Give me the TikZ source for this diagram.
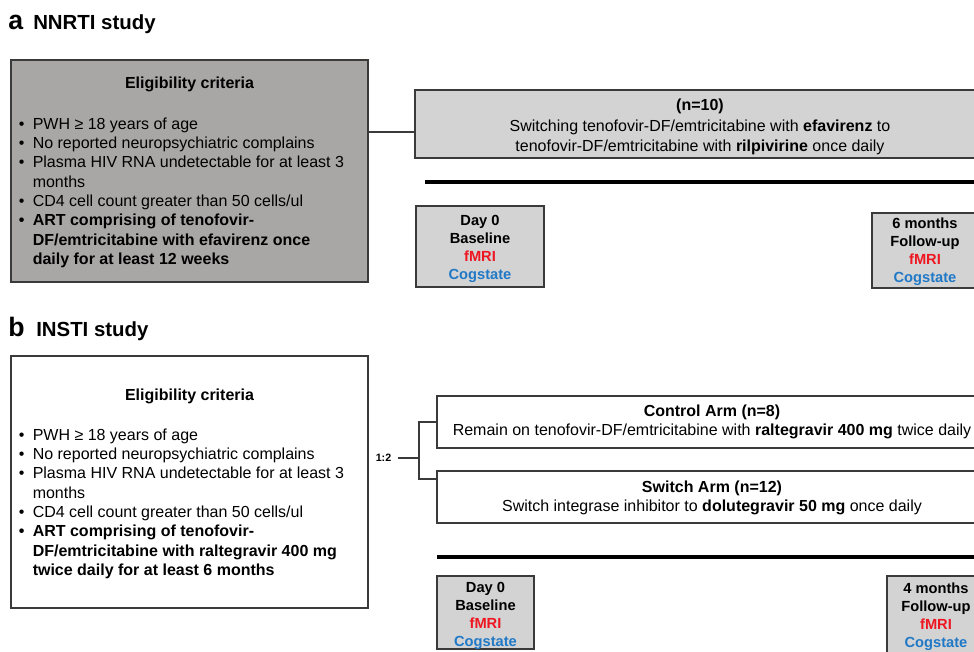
\documentclass[tikz,border=0pt]{standalone}
\usepackage{fontspec}
\setmainfont{Liberation Sans}
\usetikzlibrary{fit}
\definecolor{darkfill}{HTML}{A9A6A6}
\definecolor{lightfill}{HTML}{D4D3D3}
\definecolor{edgecol}{HTML}{3A3A3A}
\definecolor{mrired}{HTML}{EE1620}
\definecolor{cogblue}{HTML}{2079C7}
\newcommand\bodyfnt{\fontsize{12}{14.5}\selectfont}
\newcommand\armfnt{\fontsize{12}{15.4}\selectfont}
\newcommand\armbfnt{\fontsize{12}{14.3}\selectfont}
\newcommand\dayfnt{\fontsize{11}{13.5}\selectfont\bfseries}
\newcommand\mri{\textcolor{mrired}{fMRI}}
\newcommand\cog{\textcolor{cogblue}{Cogstate}}
\begin{document}
\begin{tikzpicture}[x=0.75pt,y=-0.75pt,
  letter/.style={inner sep=0pt, font=\fontsize{20}{22}\selectfont\bfseries},
  ttl/.style={inner sep=0pt, font=\fontsize{15.3}{18}\selectfont\bfseries},
  darkbox/.style={draw=edgecol, line width=1.1pt, fill=darkfill, inner sep=0pt},
  lightbox/.style={draw=edgecol, line width=1.1pt, fill=lightfill, inner sep=0pt},
  whitebox/.style={draw=edgecol, line width=1.1pt, fill=white, inner sep=0pt},
  head/.style={inner sep=0pt, font=\bodyfnt\bfseries},
  listtxt/.style={inner sep=0pt, font=\bodyfnt, align=left},
  armtxt/.style={inner sep=0pt, font=\armfnt, align=center},
  armbtxt/.style={inner sep=0pt, font=\armbfnt, align=center},
  daytxt/.style={inner sep=0pt, font=\dayfnt, align=center},
  conn/.style={draw=edgecol, line width=0.9pt},
  timeline/.style={draw=black, line width=2.3pt}]
\useasboundingbox (0,0) rectangle (974,651);
\clip (0,0) rectangle (974,651);
\fill[white] (0,0) rectangle (974,651);

% ---------------- panel a ----------------
\node[letter, anchor=base west] (la) at (8,29.5) {a};
\node[ttl, anchor=base west] (ta) at (33,29.5) {NNRTI study};

\node[darkbox, fit={(11,60) (368,282)}] (eligA) {};
\node[head, anchor=base] (ehA) at (189.5,88.5) {Eligibility criteria};
\node[listtxt, anchor=base west] (listA) at (18.5,129) {\begin{tabular}[t]{@{}l@{\hspace{6.3pt}}l@{}}
• & PWH ≥ 18 years of age\\
• & No reported neuropsychiatric complains\\
• & Plasma HIV RNA undetectable for at least 3\\
  & months\\
• & CD4 cell count greater than 50 cells/ul\\
\textbf{•} & \textbf{ART comprising of tenofovir-}\\
  & \textbf{DF/emtricitabine with efavirenz once}\\
  & \textbf{daily for at least 12 weeks}
\end{tabular}};

\node[lightbox, fit={(415,90) (990,158)}] (armA) {};
\node[armtxt] (armAt) at (700,127) {\textbf{(n=10)}\\
Switching tenofovir-DF/emtricitabine with \textbf{efavirenz} to\\
tenofovir-DF/emtricitabine with \textbf{rilpivirine} once daily};

\coordinate (jA) at (0,132);
\draw[conn] (eligA.east |- jA) -- (armA.west |- jA);

\coordinate (tlA0) at (425,182);
\coordinate (tlA1) at (990,182);
\draw[timeline] (tlA0) -- (tlA1);

\node[lightbox, fit={(416,206) (544,287)}] (d0A) {};
\node[daytxt] (d0At) at (480,248.5) {Day 0\\Baseline\\\mri\\\cog};

\node[lightbox, fit={(872,213) (980,288)}] (d6A) {};
\node[daytxt] (d6At) at (925,252) {6 months\\Follow-up\\\mri\\\cog};

% ---------------- panel b ----------------
\node[letter, anchor=base west] (lb) at (8,336) {b};
\node[ttl, anchor=base west] (tb) at (36,336) {INSTI study};

\node[whitebox, fit={(11,356) (368,608)}] (eligB) {};
\node[head, anchor=base] (ehB) at (189.5,400) {Eligibility criteria};
\node[listtxt, anchor=base west] (listB) at (18.5,440) {\begin{tabular}[t]{@{}l@{\hspace{6.3pt}}l@{}}
• & PWH ≥ 18 years of age\\
• & No reported neuropsychiatric complains\\
• & Plasma HIV RNA undetectable for at least 3\\
  & months\\
• & CD4 cell count greater than 50 cells/ul\\
\textbf{•} & \textbf{ART comprising of tenofovir-}\\
  & \textbf{DF/emtricitabine with raltegravir 400 mg}\\
  & \textbf{twice daily for at least 6 months}
\end{tabular}};

\node[inner sep=0pt, font=\fontsize{8}{9}\selectfont\bfseries] (ratio) at (383.5,458) {1:2};
\coordinate (split) at (419,458);
\coordinate (lowY) at (0,479);

\node[whitebox, fit={(437,396) (990,448)}] (ctrl) {};
\node[armbtxt] (ctrlt) at (712,421.5) {\textbf{Control Arm (n=8)}\\
Remain on tenofovir-DF/emtricitabine with \textbf{raltegravir 400 mg} twice daily};

\node[whitebox, fit={(437,471) (990,523)}] (sw) {};
\node[armbtxt] (swt) at (712,497.5) {\textbf{Switch Arm (n=12)}\\
Switch integrase inhibitor to \textbf{dolutegravir 50 mg} once daily};

\draw[conn] ([xshift=5pt]ratio.east) -- (split);
\draw[conn] (ctrl.west) -- (split |- ctrl.west) -- (split |- lowY) -- (sw.west |- lowY);

\coordinate (tlB0) at (437,557);
\coordinate (tlB1) at (990,557);
\draw[timeline] (tlB0) -- (tlB1);

\node[lightbox, fit={(437,576) (534,649)}] (d0B) {};
\node[daytxt] (d0Bt) at (485.5,615.5) {Day 0\\Baseline\\\mri\\\cog};

\node[lightbox, fit={(887,576) (985,665)}] (d4B) {};
\node[daytxt] (d4Bt) at (936,616.5) {4 months\\Follow-up\\\mri\\\cog};
\end{tikzpicture}
\end{document}
